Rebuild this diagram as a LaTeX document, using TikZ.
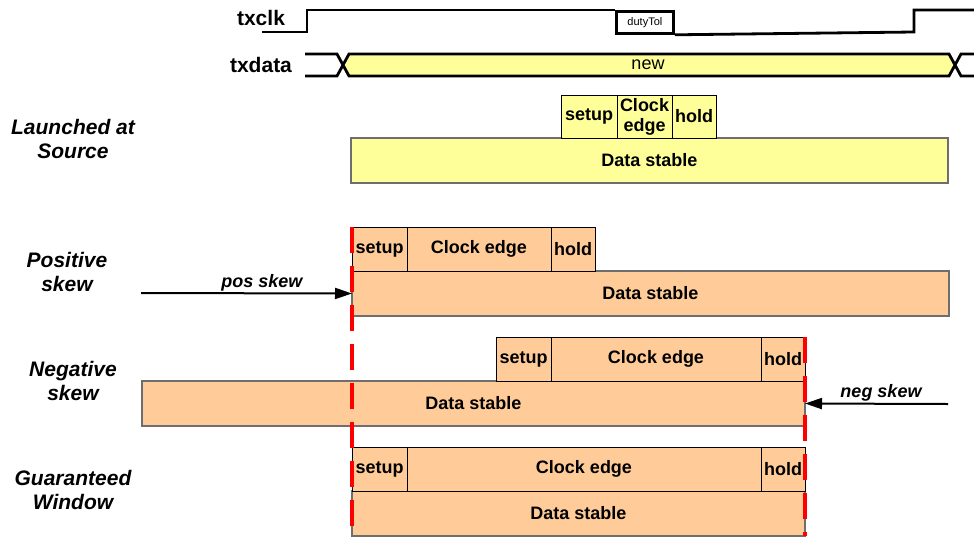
\documentclass[tikz,border=0pt]{standalone}
\usepackage{fontspec}
\setmainfont{Liberation Sans}
\usetikzlibrary{arrows.meta,positioning}

\definecolor{srcyellow}{HTML}{FFFF99}
\definecolor{skewpeach}{HTML}{FFCC99}
\definecolor{edgegray}{HTML}{6E6E6E}

\begin{document}
\begin{tikzpicture}[x=1pt, y=-1pt, node distance=0pt,
  cell/.style={draw, fill=skewpeach, line width=1pt, inner sep=0pt, outer sep=0pt, font=\fontsize{18}{20}\selectfont\bfseries, align=center, minimum height=44pt},
  stable/.style={draw=edgegray, fill=skewpeach, line width=1.4pt, inner sep=0pt, outer sep=0pt, font=\fontsize{18}{20}\selectfont\bfseries, minimum height=45pt, anchor=north west},
  rowlabel/.style={font=\fontsize{21}{24}\selectfont\bfseries\itshape, align=center},
  siglabel/.style={font=\fontsize{21}{24}\selectfont\bfseries},
  skewlabel/.style={font=\fontsize{18}{20}\selectfont\bfseries\itshape},
  wave/.style={line width=2.8pt, line join=miter},
  redline/.style={draw=red, line width=3.4pt, dash pattern=on 26pt off 13pt},
  skewarrow/.style={line width=2pt, -{Triangle[length=17pt,width=11pt]}}]
  \useasboundingbox (0,0) rectangle (974,536);

  % signals
  \node[siglabel] (clk) at (261,18) {txclk};
  \node[siglabel] (data) at (261,65) {txdata};
  \node[draw, line width=2.8pt, inner sep=0pt, minimum width=57pt, minimum height=22pt, anchor=north west, font=\fontsize{11}{12}\selectfont] (duty) at (615,10) {dutyTol};
  \draw[wave] (262,32) -- (307,32) -- (307,10) -- (duty.north west);
  \draw[wave] (duty.south east) -- (914,32) -- (914,10) -- (974,10);
  \draw[wave] (305,54) -- (337,54) -- (343,65) -- (337,76) -- (305,76);
  \draw[wave, fill=srcyellow] (343,65) -- (349,54) -- (949,54) -- (955,65) -- (949,76) -- (349,76) -- cycle;
  \draw[wave] (974,54) -- (961,54) -- (955,65) -- (961,76) -- (974,76);
  \node[font=\fontsize{18}{20}\selectfont] (newval) at (648,65) {new};

  % launched at source
  \node[rowlabel] (lsrc) at (73,139) {Launched at\\Source};
  \node[stable, fill=srcyellow, minimum width=597pt] (ds1) at (351,138) {Data stable};
  \node[cell, fill=srcyellow, minimum width=56pt, minimum height=43pt, anchor=south west] (su1) at (561,138) {setup};
  \node[cell, fill=srcyellow, minimum width=55pt, minimum height=43pt, right=of su1] (ce1) {Clock\\edge};
  \node[cell, fill=srcyellow, minimum width=44pt, minimum height=43pt, right=of ce1] (ho1) {hold};

  % positive skew
  \node[rowlabel] (lpos) at (67,272) {Positive\\skew};
  \node[stable, minimum width=597pt] (ds2) at (352,271) {Data stable};
  \node[cell, minimum width=55pt, anchor=south west] (su2) at (352,271) {setup};
  \node[cell, minimum width=144pt, right=of su2] (ce2) {Clock edge};
  \node[cell, minimum width=44pt, right=of ce2] (ho2) {hold};

  % negative skew
  \node[rowlabel] (lneg) at (73,381) {Negative\\skew};
  \node[stable, minimum width=663pt] (ds3) at (142,381) {Data stable};
  \node[cell, minimum width=55pt, anchor=south west] (su3) at (496,381) {setup};
  \node[cell, minimum width=210pt, right=of su3] (ce3) {Clock edge};
  \node[cell, minimum width=44pt, right=of ce3] (ho3) {hold};

  % guaranteed window
  \node[rowlabel] (lwin) at (73,490) {Guaranteed\\Window};
  \node[stable, minimum width=453pt] (ds4) at (352,491) {Data stable};
  \node[cell, minimum width=55pt, anchor=south west] (su4) at (352,491) {setup};
  \node[cell, minimum width=354pt, right=of su4] (ce4) {Clock edge};
  \node[cell, minimum width=44pt, right=of ce4] (ho4) {hold};

  % skews
  \coordinate (posstart) at (141,293);
  \coordinate (negstart) at (948,404);
  \draw[skewarrow] (posstart) -- (ds2.west);
  \draw[skewarrow] (negstart) -- (ds3.east);
  \node[skewlabel, anchor=base] (lposskew) at (262,287) {pos skew};
  \node[skewlabel, anchor=base] (lnegskew) at (881,397) {neg skew};

  \foreach \a/\b in {su2.north west/ds4.south west, ho3.north east/ds4.south east} {\draw[redline] (\a) -- (\b);}
\end{tikzpicture}
\end{document}
